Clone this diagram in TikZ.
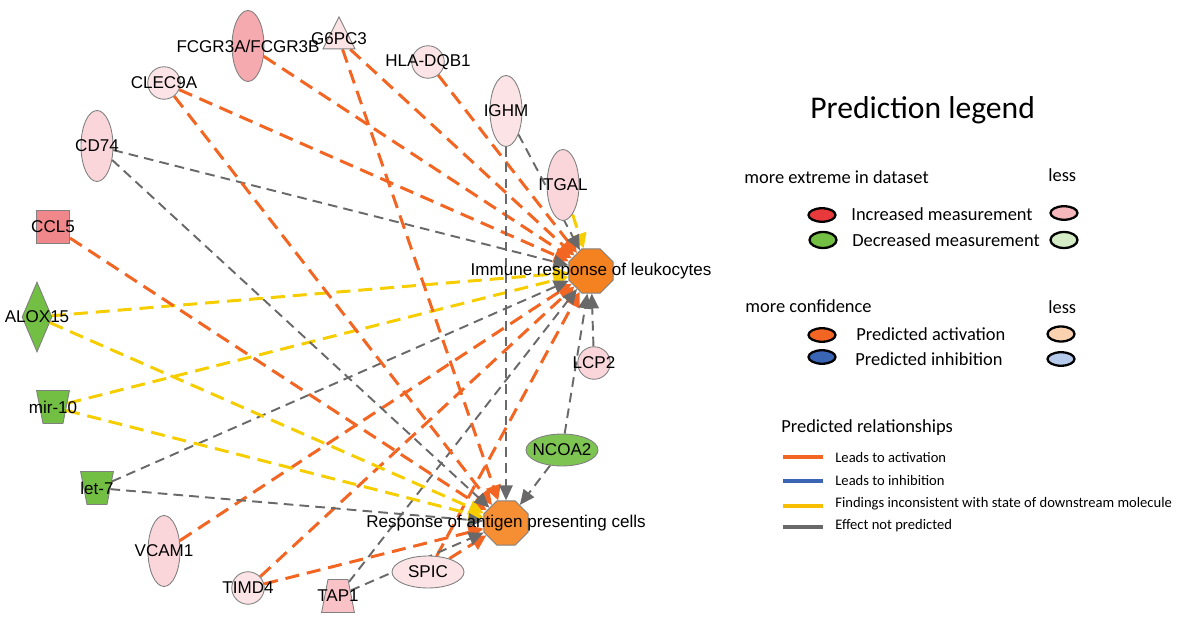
\documentclass[tikz,border=0pt]{standalone}
\usepackage{fontspec}
\usepackage{xcolor}
\usepackage{tikz}
\usetikzlibrary{arrows.meta,shapes.geometric,backgrounds,positioning}
\newfontfamily\genefont{Liberation Sans}
\newfontfamily\legfont{Carlito}

\definecolor{actorange}{RGB}{242,101,34}
\definecolor{incyellow}{RGB}{246,206,0}
\definecolor{unpgrey}{RGB}{105,105,105}
\definecolor{inhblue}{RGB}{58,100,180}
\definecolor{hubA}{RGB}{245,130,32}
\definecolor{hubB}{RGB}{246,142,52}
\definecolor{upgreen}{RGB}{114,191,68}
\definecolor{pinkA}{RGB}{245,170,175}
\definecolor{pinkB}{RGB}{240,135,138}
\definecolor{pinkC}{RGB}{249,194,198}
\definecolor{pinkD}{RGB}{250,214,218}
\definecolor{pinkE}{RGB}{252,227,229}
\definecolor{legred}{RGB}{232,58,60}
\definecolor{legpink}{RGB}{245,182,188}
\definecolor{leglgreen}{RGB}{212,235,198}
\definecolor{legpeach}{RGB}{250,210,175}
\definecolor{leglblue}{RGB}{182,202,235}

\tikzset{
	lbl/.style = {inner sep=0pt, font=\genefont\fontsize{9.7}{11}\selectfont},
	nm/.style = {label={[lbl]center:#1}},
	gene/.style = {draw=gray, line width=0.5pt, inner sep=0pt},
	vell/.style = {gene, ellipse, minimum width=0.64cm, minimum height=1.42cm},
	hell/.style = {gene, ellipse, minimum width=1.44cm, minimum height=0.64cm},
	blob/.style = {gene, circle, minimum size=0.65cm},
	sqbox/.style = {gene, rectangle, minimum size=0.66cm},
	rhomb/.style = {gene, diamond, minimum width=0.6cm, minimum height=1.4cm},
	tri/.style = {gene, isosceles triangle, shape border rotate=90,
			isosceles triangle stretches, minimum width=0.64cm, minimum height=0.64cm},
	trap/.style = {gene, trapezium, trapezium angle=79, inner xsep=0.2cm, inner ysep=0.33cm},
	invtrap/.style = {trap, shape border rotate=180},
	hub/.style = {gene, regular polygon, regular polygon sides=8, minimum size=0.96cm},
	act/.style = {draw=actorange, line width=1.7pt, dash pattern=on 8pt off 4.5pt,
			-{Triangle[length=8.5pt,width=8.5pt]}},
	inc/.style = {act, draw=incyellow},
	unp/.style = {draw=unpgrey, line width=1.1pt, dash pattern=on 5.5pt off 3.5pt,
			-{Triangle[length=8.5pt,width=7.5pt]}},
	legtxt/.style = {anchor=west, inner sep=0pt, font=\legfont\fontsize{10.5}{12}\selectfont},
	legell/.style = {ellipse, draw=black, line width=1.3pt, inner sep=0pt,
			minimum width=0.54cm, minimum height=0.27cm},
	swatch/.style = {rectangle, inner sep=0pt, minimum width=0.8cm, minimum height=0.07cm},
}

\begin{document}
\begin{tikzpicture}[x=0.02cm, y=-0.02cm]
		\useasboundingbox (0,0) rectangle (1192,617);

		\node[hub, fill=hubA, nm=Immune response of leukocytes] at (591,271) (imm) {};
		\node[hub, fill=hubB, nm=Response of antigen presenting cells] at (506,523) (apc) {};

		\node[vell, fill=pinkA, nm=FCGR3A/FCGR3B] at (248,46) (fcgr) {};
		\node[tri, fill=pinkE, nm=G6PC3] at (339,39) (gpc) {};
		\node[blob, fill=pinkE, nm=HLA-DQB1] at (428,62) (hla) {};
		\node[blob, fill=pinkE, nm=CLEC9A] at (164,83) (clec) {};
		\node[vell, fill=pinkE, nm=IGHM] at (506,111) (ighm) {};
		\node[vell, fill=pinkD, nm=CD74] at (97,146) (cd74) {};
		\node[vell, fill=pinkD, nm=ITGAL] at (563,185) (itgal) {};
		\node[sqbox, fill=pinkB, nm=CCL5] at (53,227) (ccl5) {};
		\node[rhomb, fill=upgreen, nm=ALOX15] at (37,317) (alox) {};
		\node[invtrap, fill=upgreen, nm=mir-10] at (53,407) (mir) {};
		\node[invtrap, fill=upgreen, nm=let-7] at (97,488) (let) {};
		\node[vell, fill=pinkD, nm=VCAM1] at (164,551) (vcam) {};
		\node[blob, fill=pinkE, nm=TIMD4] at (248,588) (timd) {};
		\node[trap, fill=pinkC, nm=TAP1] at (338,596) (tap) {};
		\node[hell, fill=pinkE, nm=SPIC] at (428,572) (spic) {};
		\node[hell, fill=upgreen!92!white, nm=NCOA2] at (562,450) (ncoa) {};
		\node[blob, fill=pinkD, nm=LCP2] at (594,363) (lcp) {};

		\begin{scope}[on background layer]
			\draw[act] (fcgr) -- (imm);
			\draw[act] (gpc) -- (imm);
			\draw[act] (hla) -- (imm);
			\draw[act] (clec) -- (imm);
			\draw[act] (vcam) -- (imm);
			\draw[act] (timd) -- (imm);
			\draw[act] (spic) -- (imm);
			\draw[inc] (alox) -- (imm);
			\draw[inc] (mir) -- (imm);
			\draw[inc] (itgal) -- (imm);
			\draw[unp] (cd74) -- (imm);
			\draw[unp] (ighm) -- (imm);
			\draw[unp] (let) -- (imm);
			\draw[unp] (tap) -- (imm);
			\draw[unp] (lcp) -- (imm);
			\draw[unp] (ncoa) -- (imm);

			\draw[act] (gpc) -- (apc);
			\draw[act] (clec) -- (apc);
			\draw[act] (ccl5) -- (apc);
			\draw[act] (timd) -- (apc);
			\draw[act] (spic) -- (apc);
			\draw[inc] (alox) -- (apc);
			\draw[inc] (mir) -- (apc);
			\draw[unp] (cd74) -- (apc);
			\draw[unp] (ighm) -- (apc);
			\draw[unp] (let) -- (apc);
			\draw[unp] (tap) -- (apc);
			\draw[unp] (ncoa) -- (apc);
		\end{scope}

		\node[legtxt, font=\legfont\fontsize{18}{21}\selectfont] at (810,110) (title) {Prediction legend};

		\node[legtxt] at (744,177) (extreme) {more extreme in dataset};
		\node[legtxt] at (1048,175) (less1) {less};
		\node[legell, fill=legred] at (822,215) (incr) {};
		\node[legtxt] at (851,214) (incrtxt) {Increased measurement};
		\node[legell, fill=legpink] at (1064,213) (incrl) {};
		\node[legell, fill=upgreen, minimum height=0.32cm] at (823,240) (decr) {};
		\node[legtxt] at (852,240) (decrtxt) {Decreased measurement};
		\node[legell, fill=leglgreen, minimum height=0.32cm] at (1064,240) (decrl) {};

		\node[legtxt] at (745,306) (conf) {more confidence};
		\node[legtxt] at (1048,307) (less2) {less};
		\node[legell, fill=actorange] at (822,335) (pact) {};
		\node[legtxt] at (856,334) (pacttxt) {Predicted activation};
		\node[legell, fill=legpeach, minimum height=0.3cm] at (1061,334) (pactl) {};
		\node[legell, fill=inhblue] at (822,357) (pinh) {};
		\node[legtxt] at (855,359) (pinhtxt) {Predicted inhibition};
		\node[legell, fill=leglblue] at (1061,359) (pinhl) {};

		\node[legtxt] at (781,428) (rel) {Predicted relationships};
		\node[swatch, fill=actorange] at (803,457) (swact) {};
		\node[legtxt, font=\legfont\fontsize{8.3}{10}\selectfont] at (835,457) (swacttxt) {Leads to activation};
		\node[swatch, fill=inhblue] at (803,481) (swinh) {};
		\node[legtxt, font=\legfont\fontsize{8.3}{10}\selectfont] at (835,480) (swinhtxt) {Leads to inhibition};
		\node[swatch, fill=incyellow!80!orange] at (803,506) (swinc) {};
		\node[legtxt, font=\legfont\fontsize{8.3}{10}\selectfont] at (835,504) (swinctxt) {Findings inconsistent with state of downstream molecule};
		\node[swatch, fill=unpgrey] at (803,527) (swunp) {};
		\node[legtxt, font=\legfont\fontsize{8.3}{10}\selectfont] at (835,526) (swunptxt) {Effect not predicted};
	\end{tikzpicture}
\end{document}
